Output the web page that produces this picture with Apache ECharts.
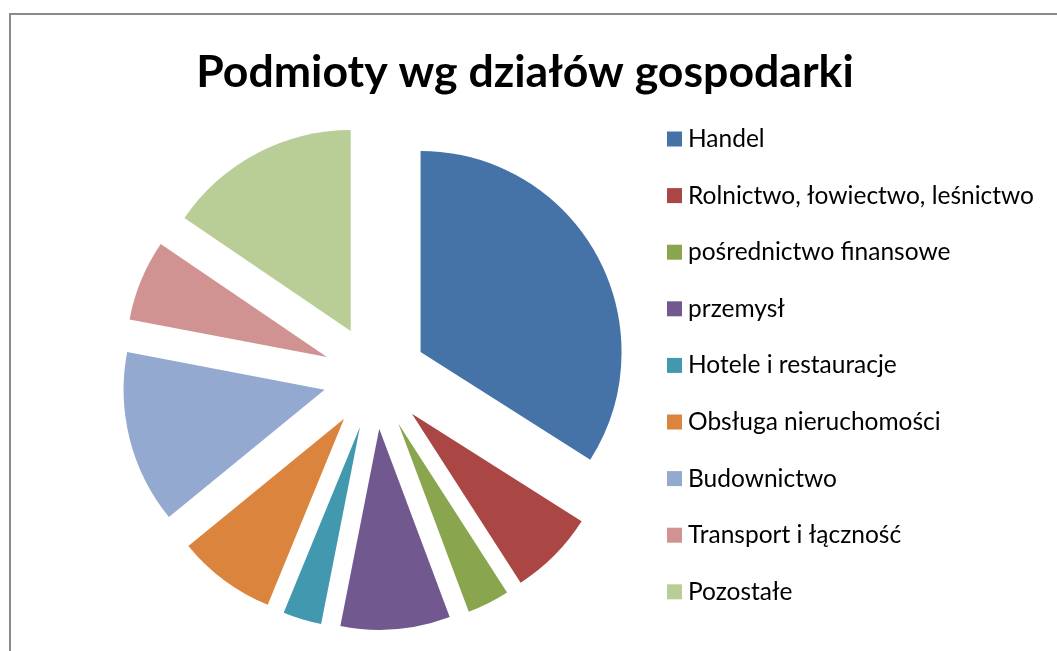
<!DOCTYPE html>
<html>
<head>
<meta charset="utf-8">
<script src="https://cdn.jsdelivr.net/npm/echarts@6/dist/echarts.min.js"></script>
<style>
  html, body { margin: 0; padding: 0; background: #fff; }
  #chart { width: 1057px; height: 651px; }
</style>
</head>
<body>
<div id="chart"></div>
<script>
const titleText = 'Podmioty wg działów gospodarki';
const categories = [
  'Handel',
  'Rolnictwo, łowiectwo, leśnictwo',
  'pośrednictwo finansowe',
  'przemysł',
  'Hotele i restauracje',
  'Obsługa nieruchomości',
  'Budownictwo',
  'Transport i łączność',
  'Pozostałe'
];
const shares = [34.0, 6.9, 3.4, 8.8, 3.1, 7.9, 13.9, 6.5, 15.5];
const palette = ['#4572A7', '#AA4643', '#89A54E', '#71588F', '#4198AF', '#DB843D', '#93A9CF', '#D19392', '#B9CD96'];

const FONT = 'Lato, "Open Sans", sans-serif';
const chart = echarts.init(document.getElementById('chart'), null, { renderer: 'canvas' });

const pieData = categories.map((name, i) => ({
  name: name,
  value: shares[i],
  selected: true,
  itemStyle: { color: palette[i] }
}));

chart.setOption({
  animation: false,
  backgroundColor: '#ffffff',
  title: {
    text: titleText,
    left: 525,
    top: 50,
    textAlign: 'center',
    padding: 0,
    textStyle: { fontFamily: FONT, fontWeight: 'bold', fontSize: 44.6, color: '#000' }
  },
  legend: {
    orient: 'vertical',
    left: 667,
    top: 126.5,
    height: 560,
    padding: 0,
    itemWidth: 15,
    itemHeight: 15,
    itemGap: 31.6,
    icon: 'rect',
    selectedMode: false,
    data: categories,
    textStyle: { fontFamily: FONT, fontSize: 24.5, color: '#000', padding: [0, 0, 0, 1] }
  },
  graphic: [{
    type: 'rect',
    silent: true,
    z: 100,
    shape: { x: 10, y: 14, width: 1200, height: 800 },
    style: { fill: 'none', stroke: '#8a8a8a', lineWidth: 2 }
  }],
  series: [{
    type: 'pie',
    center: [375, 377],
    radius: [0, 201],
    startAngle: 90,
    clockwise: true,
    selectedMode: 'multiple',
    selectedOffset: 52,
    label: { show: false },
    labelLine: { show: false },
    emphasis: { disabled: true },
    select: { itemStyle: { borderWidth: 0 } },
    itemStyle: { borderWidth: 0 },
    data: pieData
  }]
});
</script>
</body>
</html>
